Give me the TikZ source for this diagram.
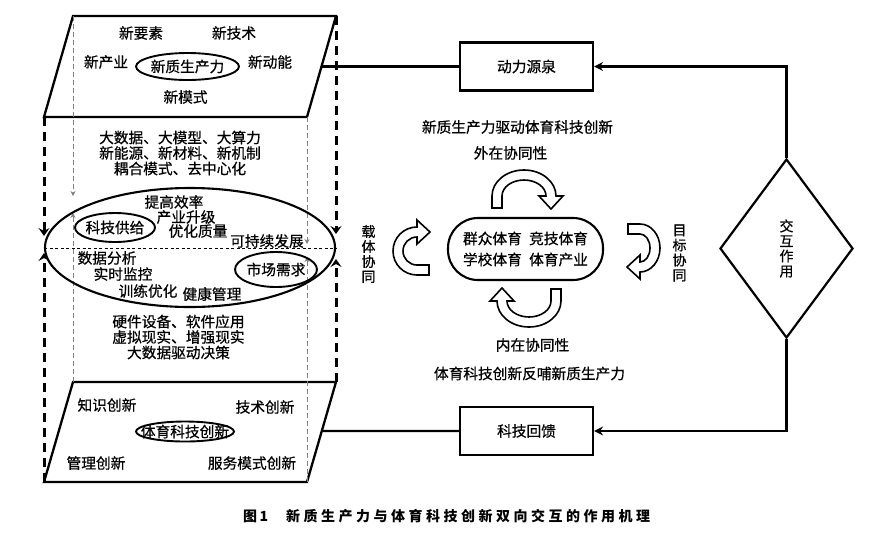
\documentclass[tikz,border=0pt]{standalone}
\usepackage{fontspec}
\setmainfont{Noto Sans CJK SC}[UprightFeatures={FakeBold=0.6}]
\usetikzlibrary{arrows.meta,shapes.geometric,calc}
\newcommand{\myBentArrow}[5]{%
  \draw[bentarr, shift={(#1,-#2)}, rotate=#3]
    (-#4,-12) -- (-#4,0) arc[start angle=180, end angle=0, x radius=#4, y radius=#5]
    -- ({#4+7},0) -- ({#4-5},-13) -- ({#4-17},0) -- ({#4-10},0)
    arc[start angle=0, end angle=180, x radius={#4-10}, y radius={#5-10}]
    -- ({-#4+10},-12) -- cycle;
}
\begin{document}
\begin{tikzpicture}[x=1pt,y=1pt,
  every node/.style={inner sep=0pt, font=\fontsize{14.7}{15.5}\selectfont},
  thk/.style={line width=2.3pt, line join=miter},
  ovl/.style={draw, ellipse, line width=1.9pt, inner sep=0pt},
  bigdash/.style={line width=3pt, dash pattern=on 9pt off 6pt, -{Stealth[length=8pt,width=11pt,inset=3pt]}},
  graydash/.style={draw=gray, line width=1pt, dash pattern=on 5pt off 3pt, -{Stealth[length=5pt,width=5pt]}},
  bentarr/.style={draw, fill=white, line width=1.6pt, line join=miter},
  box/.style={draw, line width=2.2pt, minimum width=133pt, minimum height=48pt},
  conn/.style={line width=2.2pt},
  vtext/.style={align=center, font=\fontsize{14}{15}\selectfont},
]
\useasboundingbox (0,0) rectangle (893,-536);

% ---------- parallelograms ----------
\coordinate (tTL) at (73,-16);
\coordinate (tTR) at (336,-16);
\coordinate (tBR) at (307,-117);
\coordinate (tBL) at (44,-117);
\coordinate (bTL) at (73,-382);
\coordinate (bTR) at (336,-382);
\coordinate (bBR) at (307,-482);
\coordinate (bBL) at (44,-482);
\draw[thk] (tTL) -- (tTR) -- (tBR) -- (tBL) -- cycle;
\draw[thk] (bTL) -- (bTR) -- (bBR) -- (bBL) -- cycle;

% ---------- arrow end coordinates ----------
\coordinate (lDown) at (44,-236);
\coordinate (lUp) at (44,-253);
\coordinate (rDown) at (336,-234);
\coordinate (rUp) at (336,-259);
\coordinate (glDown) at (73,-196);
\coordinate (glUp) at (73,-213);
\coordinate (grDown) at (307,-244);
\coordinate (grUp) at (307,-257);
\coordinate (hL) at (44,-248);
\coordinate (hR) at (336,-248);

\draw[bigdash] (tBL) -- (lDown);
\draw[bigdash] (bBL) -- (lUp);
\draw[bigdash] (tTR) -- (rDown);
\draw[bigdash] (bTR) -- (rUp);
\draw[graydash] (tTL) -- (glDown);
\draw[graydash] (bTL) -- (glUp);
\draw[graydash] (tBR) -- (grDown);
\draw[graydash] (bBR) -- (grUp);
\draw[line width=0.8pt, dash pattern=on 3pt off 2.5pt] (hL) -- (hR);

% ---------- top parallelogram texts ----------
\node (ysu) at (141,-33) {新要素};
\node (jsh) at (234,-33) {新技术};
\node (cye) at (106,-62) {新产业};
\node[ovl, minimum width=103, minimum height=27, label={center:新质生产力}] (xzsc) at (187.5,-66.5) {};
\node (dne) at (270,-62) {新动能};
\node (msh) at (185.5,-97) {新模式};

% ---------- upper text block ----------
\node[align=center] (up) at (180,-153) {大数据、大模型、大算力\\新能源、新材料、新机制\\耦合模式、去中心化};

% ---------- big ellipse ----------
\node[ovl, line width=2.1pt, minimum width=290, minimum height=119] (big) at (190,-247.5) {};
\node[ovl, minimum width=80, minimum height=29, label={center:科技供给}] (kjgg) at (115,-227.5) {};
\node[ovl, minimum width=82, minimum height=35, label={center:市场需求}] (sc) at (276,-269.5) {};
\node (t1) at (174,-202) {提高效率};
\node (t2) at (186,-217) {产业升级};
\node (t3) at (198,-231) {优化质量};
\node (t4) at (267,-241) {可持续发展};
\node (t5) at (107,-258) {数据分析};
\node (t6) at (123,-274) {实时监控};
\node (t7) at (148,-291) {训练优化};
\node (t8) at (212,-294) {健康管理};

% ---------- lower text block ----------
\node[align=center] (low) at (178.5,-337) {硬件设备、软件应用\\虚拟现实、增强现实\\大数据驱动决策};

% ---------- bottom parallelogram texts ----------
\node (zs) at (107,-405) {知识创新};
\node (js) at (265,-407) {技术创新};
\node[ovl, minimum width=98, minimum height=20, label={center:体育科技创新}] (tykj) at (185,-431.5) {};
\node (gl) at (96,-463) {管理创新};
\node (fw) at (252,-463) {服务模式创新};

% ---------- centre ----------
\node (drv) at (517.5,-127) {新质生产力驱动体育科技创新};
\node (wz) at (510.5,-153) {外在协同性};
\node[draw, line width=2.1pt, rounded corners=30pt, minimum width=155, minimum height=62,
      align=center, font=\fontsize{14.7}{21}\selectfont] (core) at (525.5,-249)
      {群众体育\hspace{0.5em}竞技体育\\学校体育\hspace{0.5em}体育产业};
\node (nz) at (532.5,-345) {内在协同性};
\node (fb2) at (529.5,-373.5) {体育科技创新反哺新质生产力};
\node[vtext] (zt) at (368.5,-254) {载\\体\\协\\同};
\node[vtext] (mb) at (679.5,-253) {目\\标\\协\\同};

\myBentArrow{524}{196}{0}{32}{26}
\myBentArrow{529}{301}{180}{32}{26}
\myBentArrow{417}{251}{90}{24}{24}
\myBentArrow{640}{248}{-90}{24}{20}

% ---------- right side ----------
\node[box] (src) at (526.5,-66.5) {动力源泉};
\node[box] (fbk) at (526.5,-431) {科技回馈};
\node[draw, diamond, line width=2.2pt, minimum width=133, minimum height=179, inner sep=0pt,
      align=center, font=\fontsize{14}{15}\selectfont] (dia) at (786.5,-248.5) {交\\互\\作\\用};
\coordinate (tR) at ($(tTR)!0.5!(tBR)$);
\coordinate (bR) at ($(bTR)!0.49!(bBR)$);
\draw[conn] (tR) -- (src.west);
\draw[conn] (bR) -- (fbk.west);
\draw[conn, -{Stealth[length=9pt,width=9pt,inset=3pt]}] (dia.north) |- (src.east);
\draw[conn, -{Stealth[length=9pt,width=9pt,inset=3pt]}] (dia.south) |- (fbk.east);

% ---------- caption ----------
\node[font=\fontsize{14}{16}\selectfont\bfseries, anchor=west] (cap) at (243,-516)
  {图\,1\hspace{18pt}{\addfontfeature{LetterSpace=25}新质生产力与体育科技创新双向交互的作用机理}};
\end{tikzpicture}
\end{document}
